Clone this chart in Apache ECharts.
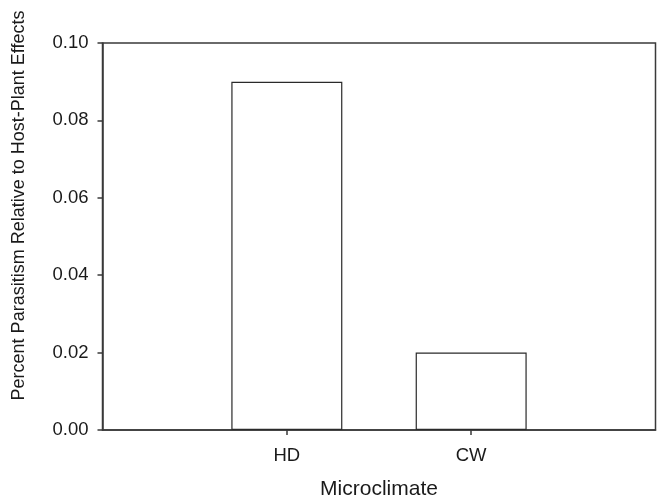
<!DOCTYPE html>
<html><head><meta charset="utf-8">
<script src="https://cdn.jsdelivr.net/npm/echarts@6/dist/echarts.min.js"></script>
<style>html,body{margin:0;padding:0;background:#fff}#c{width:658px;height:497px}</style>
</head><body><div id="c"></div>
<script>
const categories = ['', 'HD', 'CW', ''];
const values = [null, 0.09, 0.02, null];
const yTicks = [0, 0.02, 0.04, 0.06, 0.08, 0.10];
const xTitle = 'Microclimate';
const yTitle = 'Percent Parasitism Relative to Host-Plant Effects';

const font = '"Liberation Sans", Arial, sans-serif';
const chart = echarts.init(document.getElementById('c'));
chart.setOption({
  animation: false,
  grid: {left: 102.5, right: 2.5, top: 43, bottom: 67, containLabel: false, outerBoundsMode: 'none', show: true, borderColor: '#3a3a3a', borderWidth: 1.5, backgroundColor: 'transparent'},
  xAxis: {
    type: 'category', data: categories, boundaryGap: false,
    name: xTitle, nameLocation: 'middle', nameGap: 49,
    nameTextStyle: {fontSize: 21, color: '#1a1a1a', fontFamily: font},
    axisLine: {lineStyle: {color: '#3a3a3a', width: 1.5}},
    axisTick: {show: true, length: 5, interval: function(i){return i === 1 || i === 2;}, lineStyle: {color: '#3a3a3a', width: 1.5}},
    axisLabel: {margin: 16, fontSize: 18.5, color: '#1a1a1a', fontFamily: font, interval: 0},
    splitLine: {show: false}
  },
  yAxis: {
    type: 'value', min: 0, max: 0.10, interval: 0.02,
    name: yTitle, nameLocation: 'middle', nameGap: 74,
    nameTextStyle: {fontSize: 18, color: '#1a1a1a', fontFamily: font, padding: [0, 0, 0, 62]},
    axisLine: {show: true, lineStyle: {color: '#3a3a3a', width: 1.5}},
    axisTick: {show: true, length: 5, lineStyle: {color: '#3a3a3a', width: 1.5}},
    axisLabel: {margin: 14, fontSize: 18.5, color: '#1a1a1a', fontFamily: font,
      formatter: function(v){ return yTicks.indexOf(+v.toFixed(2)) >= 0 ? v.toFixed(2) : ''; }},
    splitLine: {show: false}
  },
  series: [{
    type: 'bar', data: values, barWidth: 111,
    itemStyle: {color: '#fff', borderColor: '#2a2a2a', borderWidth: 1.2}
  }]
});
</script></body></html>
